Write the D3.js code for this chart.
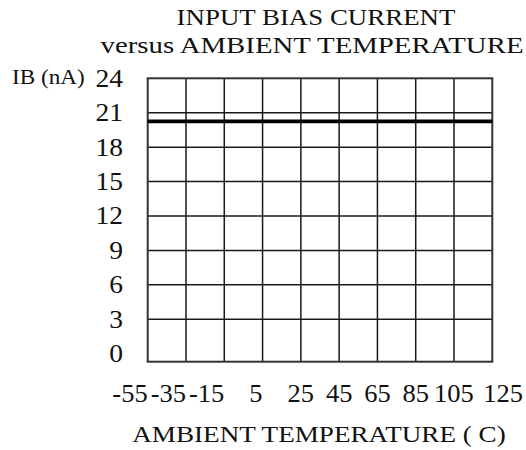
<!DOCTYPE html>
<html><head><meta charset="utf-8">
<script src="https://cdn.jsdelivr.net/npm/d3@7"></script>
<style>html,body{margin:0;padding:0;background:#fff;}svg{display:block;}text{font-family:"Liberation Serif","Times New Roman",serif;fill:#111;}</style>
</head><body>
<svg id="c" width="526" height="450"></svg>
<script>
const temperatures = [-55, -35, -15, 5, 25, 45, 65, 85, 105, 125];
const ibValues = [20.25, 20.25, 20.25, 20.25, 20.25, 20.25, 20.25, 20.25, 20.25, 20.25];
const yTicks = [0, 3, 6, 9, 12, 15, 18, 21, 24];
const xTickLabels = ["-55", "-35", "-15", "5", "25", "45", "65", "85", "105", "125"];
const titleLines = ["INPUT BIAS CURRENT", "versus AMBIENT TEMPERATURE"];
const yTitle = "IB (nA)";
const xTitle = "AMBIENT TEMPERATURE ( C)";

const svg = d3.select("#c");
const x = d3.scaleLinear().domain([-55, 125]).range([147.7, 492.3]);
const y = d3.scaleLinear().domain([-0.7, 24]).range([361.7, 78.3]);

function stretch(sel, f) {
  sel.each(function() {
    const len = this.getComputedTextLength();
    d3.select(this).attr("textLength", len * f).attr("lengthAdjust", "spacingAndGlyphs");
  });
  return sel;
}

// grid
const g = svg.append("g");
g.selectAll("line.v").data(temperatures.slice(1, -1)).join("line")
  .attr("x1", d => x(d)).attr("x2", d => x(d))
  .attr("y1", y(24)).attr("y2", y(-0.7))
  .attr("stroke", "#1a1a1a").attr("stroke-width", 1.5);
g.selectAll("line.h").data(yTicks.filter(d => d > 0 && d < 24)).join("line")
  .attr("x1", x(-55)).attr("x2", x(125))
  .attr("y1", d => y(d)).attr("y2", d => y(d))
  .attr("stroke", "#1a1a1a").attr("stroke-width", 1.5);
g.append("rect").attr("x", x(-55)).attr("y", y(24))
  .attr("width", x(125) - x(-55)).attr("height", y(-0.7) - y(24))
  .attr("fill", "none").attr("stroke", "#333").attr("stroke-width", 2);

// data line
svg.append("path").datum(temperatures.map((t, i) => [t, ibValues[i]]))
  .attr("d", d3.line().x(d => x(d[0])).y(d => y(d[1])))
  .attr("fill", "none").attr("stroke", "#000").attr("stroke-width", 3.8);

// y tick labels
stretch(svg.selectAll("text.yt").data(yTicks).join("text")
  .attr("x", 123).attr("y", d => y(d) + 8.5)
  .attr("text-anchor", "end").attr("font-size", 25).text(d => d), 1.1);

// x tick labels
const n = temperatures.length;
stretch(svg.selectAll("text.xt").data(temperatures).join("text")
  .attr("x", d => x(d)).attr("y", 402)
  .attr("dx", (d, i) => i === n - 1 ? -9 : 0)
  .attr("text-anchor", (d, i) => i === n - 1 ? "start" : (d < 25 ? "end" : "middle"))
  .attr("font-size", 25).text((d, i) => xTickLabels[i]), 1.06);

// titles
stretch(svg.append("text").attr("x", 316).attr("y", 25).attr("text-anchor", "middle")
  .attr("font-size", 24).text(titleLines[0]), 1.12);
stretch(svg.append("text").attr("x", 312).attr("y", 53).attr("text-anchor", "middle")
  .attr("font-size", 24).text(titleLines[1]), 1.2);
stretch(svg.append("text").attr("x", 12).attr("y", 84).attr("font-size", 20).text(yTitle), 1.16);
stretch(svg.append("text").attr("x", 319).attr("y", 441.7).attr("text-anchor", "middle")
  .attr("font-size", 24).text(xTitle), 1.13);
</script>
</body></html>
